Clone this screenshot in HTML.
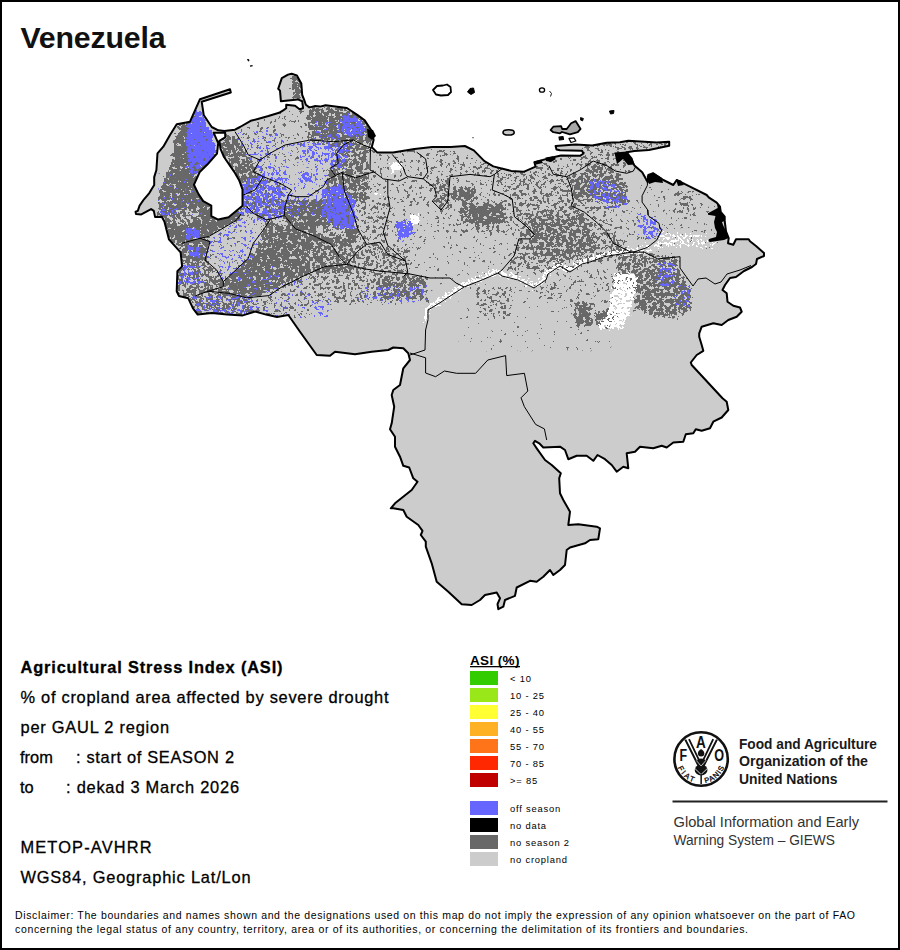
<!DOCTYPE html>
<html><head><meta charset="utf-8">
<style>
html,body{margin:0;padding:0;background:#fff;}
svg{display:block;}
text{font-family:"Liberation Sans",sans-serif;}
</style></head><body>
<svg width="900" height="950" viewBox="0 0 900 950">
<rect x="1" y="1" width="898" height="948" fill="#fff" stroke="#000" stroke-width="2"/>
<text x="20.5" y="48.3" font-size="30.3" font-weight="bold" fill="#111" textLength="145" lengthAdjust="spacing">Venezuela</text>

<g id="map">
<defs>
<clipPath id="cl"><polygon points="230,89.2 200,99.2 190,121.7 176.7,124.2 170,135 163.3,146.7 157.5,153.3 156.4,170 154.2,177.1 154.2,185.1 149.3,193.1 144,199.3 139.6,205.6 137.8,210.9 135.6,211.8 136,214 141.3,214.4 151.1,209.1 153.8,210.9 155.1,217.1 161.8,216.7 164.4,221.6 168.9,239.3 180.6,252.4 182.1,266.4 177.4,271.1 176.7,291.3 179,296 188.3,298.3 193,308.4 197.7,314.6 211.7,313.1 227.2,314.6 242.8,315.4 255.2,311.5 266.1,314.6 277,317 288.3,315 300,331.7 316.7,355 330,355.8 335,351.7 355,354.2 371.7,351.7 388.3,350 393.3,347.5 403.3,348.3 408.3,353.3 410,360 403.3,368.3 400,385 393.3,390 391.7,395 394.2,406.7 391.7,423.3 390,429.2 395,436.7 395,446.7 400,456.7 403.3,465.8 409.2,467.5 413.3,478.3 417.5,481.7 411.7,490 395,503.3 390.8,508.3 393.3,508.3 403.3,510 406.7,516.7 418.3,525 422.5,530.8 420.8,535 425.8,541.7 425.8,546.7 431.7,563.3 436.7,581.7 448.3,591.7 461.7,604.2 471.7,605 480,600 485,595 496.7,592.5 500,598.3 497.5,604.2 498.3,609.2 503.3,606.7 505,600 515,595.8 516.7,587.5 530,580.8 536.7,581.7 543.3,576.7 550,570 553.3,575 560,570 565,565 566.7,550 570,547.5 585,543.3 590,540 598.3,539.2 600,528.3 596.7,526.7 578.3,524.2 568.3,525 570,511.7 563.3,500 560,493.3 559.2,478.3 560.8,473.3 551.7,465 545,460 536.7,448.3 533.3,443.3 535,440.8 539.2,443.3 543.3,447.5 560,446.7 565,450 568.3,459.2 576.7,455.8 586.7,455.8 593.3,460.8 597.5,455 605,459.2 611.7,465 616.7,471.7 623.3,466.7 628.3,468.3 626.7,453.3 635,451.7 640,446.7 653.3,448.3 661.7,445.8 666.7,447.5 673.3,442.5 683.3,441.7 685.8,434.2 693.3,433.3 695.8,429.2 701.7,430.8 710,428.3 713.3,421.7 721.7,417.5 728.3,410 726.7,401.7 722.5,398.3 691.7,365 690.8,362.5 696.7,355 703.3,350.8 701.7,345 699.2,336.7 699.2,333.3 701.7,326.7 713.3,323.3 721.7,325 728.3,320 736.7,316.7 741.7,311.7 740,307.5 733.3,305.8 727.5,301.7 726.7,293.3 722.5,290 725,285 730,278 736,277 744,271 752,267 756,264 757,259 764,256 764,253 756,246 750,241.3 748.7,239.3 736,239.3 733.3,244.7 728,243.3 728.7,238 726,231.3 724.7,221 724.7,216.7 720.7,212 720,206.7 716.7,202.7 708.7,197.3 706.7,195 690,186.7 680,181.7 676.7,180 673.3,185 663.3,180 653.3,173.3 648.3,175 647.8,182.2 642.2,172.2 634.4,165.6 632.2,161.1 626.7,152.2 634.4,151.1 648.9,150 669.2,145.8 669.2,141.7 656.7,142.5 628.3,140.8 620,142.2 606.7,142.8 592.2,145.6 575.6,144.4 555.6,146.1 556.5,149.5 560,150.2 582,150.8 583.5,153.5 580,155.8 561,155.5 553.3,157.2 546.7,158.9 534.4,162.2 535.6,166.7 523.6,171.8 511.1,170.9 493.3,166.4 484.4,161.1 473.8,150.4 464.9,146 450.7,146.9 432.2,147.1 414.4,148.9 393.1,152.4 377.1,152.4 371.8,147.1 373.6,140 371.8,131.1 364.7,120.4 357.6,115.1 346.9,108 325.6,105.3 320,106.6 314.7,106.1 309.3,107.4 305.8,104.8 304,99.4 302.2,95 301.3,83.4 296.9,75.4 291.6,73.7 288,74.6 281.8,78.1 278.2,88.8 280,90.6 280.9,101.2 297.8,99.4 302.2,101.2 303.1,108.3 299.6,109.2 295.1,105.7 286.2,104.8 286.2,108.3 283.6,110.1 279.1,112.8 267.6,116.3 257.8,119 250.7,120.8 240,127 235,129.7 224.3,131 218.3,130.3 211.7,127 203.7,115 201.7,101.7 230.8,92.5"/></clipPath>
<filter id="fD" filterUnits="userSpaceOnUse" x="0" y="0" width="900" height="950" color-interpolation-filters="sRGB">
<feColorMatrix in="SourceGraphic" type="matrix" values="0 0 0 0 0  0 0 0 0 0  0 0 0 0 0  1 0 0 0 0" result="a"/>
<feGaussianBlur in="a" stdDeviation="1.5" result="d"/>
<feTurbulence type="fractalNoise" baseFrequency="0.3" numOctaves="3" seed="11" result="n0"/>
<feComponentTransfer in="n0" result="n"><feFuncA type="linear" slope="2.0" intercept="-0.5"/></feComponentTransfer>
<feComposite in="d" in2="n" operator="arithmetic" k1="0" k2="1" k3="1" k4="-1" result="s"/>
<feComponentTransfer in="s" result="m"><feFuncA type="linear" slope="80" intercept="0"/></feComponentTransfer>
<feFlood flood-color="#686868" result="c"/>
<feComposite in="c" in2="m" operator="in"/>
</filter>
<filter id="fB" filterUnits="userSpaceOnUse" x="0" y="0" width="900" height="950" color-interpolation-filters="sRGB">
<feColorMatrix in="SourceGraphic" type="matrix" values="0 0 0 0 0  0 0 0 0 0  0 0 0 0 0  1 0 0 0 0" result="a"/>
<feGaussianBlur in="a" stdDeviation="1.3" result="d"/>
<feTurbulence type="fractalNoise" baseFrequency="0.32" numOctaves="3" seed="23" result="n0"/>
<feComponentTransfer in="n0" result="n"><feFuncA type="linear" slope="2.0" intercept="-0.5"/></feComponentTransfer>
<feComposite in="d" in2="n" operator="arithmetic" k1="0" k2="1" k3="1" k4="-1" result="s"/>
<feComponentTransfer in="s" result="m"><feFuncA type="linear" slope="80" intercept="0"/></feComponentTransfer>
<feFlood flood-color="#6666ff" result="c"/>
<feComposite in="c" in2="m" operator="in"/>
</filter>
<filter id="fW" filterUnits="userSpaceOnUse" x="0" y="0" width="900" height="950" color-interpolation-filters="sRGB">
<feColorMatrix in="SourceGraphic" type="matrix" values="0 0 0 0 0  0 0 0 0 0  0 0 0 0 0  1 0 0 0 0" result="a"/>
<feGaussianBlur in="a" stdDeviation="1.0" result="d"/>
<feTurbulence type="fractalNoise" baseFrequency="0.4" numOctaves="3" seed="37" result="n0"/>
<feComponentTransfer in="n0" result="n"><feFuncA type="linear" slope="2.0" intercept="-0.5"/></feComponentTransfer>
<feComposite in="d" in2="n" operator="arithmetic" k1="0" k2="1" k3="1" k4="-1" result="s"/>
<feComponentTransfer in="s" result="m"><feFuncA type="linear" slope="80" intercept="0"/></feComponentTransfer>
<feFlood flood-color="#ffffff" result="c"/>
<feComposite in="c" in2="m" operator="in"/>
</filter>
</defs>
<polygon points="230,89.2 200,99.2 190,121.7 176.7,124.2 170,135 163.3,146.7 157.5,153.3 156.4,170 154.2,177.1 154.2,185.1 149.3,193.1 144,199.3 139.6,205.6 137.8,210.9 135.6,211.8 136,214 141.3,214.4 151.1,209.1 153.8,210.9 155.1,217.1 161.8,216.7 164.4,221.6 168.9,239.3 180.6,252.4 182.1,266.4 177.4,271.1 176.7,291.3 179,296 188.3,298.3 193,308.4 197.7,314.6 211.7,313.1 227.2,314.6 242.8,315.4 255.2,311.5 266.1,314.6 277,317 288.3,315 300,331.7 316.7,355 330,355.8 335,351.7 355,354.2 371.7,351.7 388.3,350 393.3,347.5 403.3,348.3 408.3,353.3 410,360 403.3,368.3 400,385 393.3,390 391.7,395 394.2,406.7 391.7,423.3 390,429.2 395,436.7 395,446.7 400,456.7 403.3,465.8 409.2,467.5 413.3,478.3 417.5,481.7 411.7,490 395,503.3 390.8,508.3 393.3,508.3 403.3,510 406.7,516.7 418.3,525 422.5,530.8 420.8,535 425.8,541.7 425.8,546.7 431.7,563.3 436.7,581.7 448.3,591.7 461.7,604.2 471.7,605 480,600 485,595 496.7,592.5 500,598.3 497.5,604.2 498.3,609.2 503.3,606.7 505,600 515,595.8 516.7,587.5 530,580.8 536.7,581.7 543.3,576.7 550,570 553.3,575 560,570 565,565 566.7,550 570,547.5 585,543.3 590,540 598.3,539.2 600,528.3 596.7,526.7 578.3,524.2 568.3,525 570,511.7 563.3,500 560,493.3 559.2,478.3 560.8,473.3 551.7,465 545,460 536.7,448.3 533.3,443.3 535,440.8 539.2,443.3 543.3,447.5 560,446.7 565,450 568.3,459.2 576.7,455.8 586.7,455.8 593.3,460.8 597.5,455 605,459.2 611.7,465 616.7,471.7 623.3,466.7 628.3,468.3 626.7,453.3 635,451.7 640,446.7 653.3,448.3 661.7,445.8 666.7,447.5 673.3,442.5 683.3,441.7 685.8,434.2 693.3,433.3 695.8,429.2 701.7,430.8 710,428.3 713.3,421.7 721.7,417.5 728.3,410 726.7,401.7 722.5,398.3 691.7,365 690.8,362.5 696.7,355 703.3,350.8 701.7,345 699.2,336.7 699.2,333.3 701.7,326.7 713.3,323.3 721.7,325 728.3,320 736.7,316.7 741.7,311.7 740,307.5 733.3,305.8 727.5,301.7 726.7,293.3 722.5,290 725,285 730,278 736,277 744,271 752,267 756,264 757,259 764,256 764,253 756,246 750,241.3 748.7,239.3 736,239.3 733.3,244.7 728,243.3 728.7,238 726,231.3 724.7,221 724.7,216.7 720.7,212 720,206.7 716.7,202.7 708.7,197.3 706.7,195 690,186.7 680,181.7 676.7,180 673.3,185 663.3,180 653.3,173.3 648.3,175 647.8,182.2 642.2,172.2 634.4,165.6 632.2,161.1 626.7,152.2 634.4,151.1 648.9,150 669.2,145.8 669.2,141.7 656.7,142.5 628.3,140.8 620,142.2 606.7,142.8 592.2,145.6 575.6,144.4 555.6,146.1 556.5,149.5 560,150.2 582,150.8 583.5,153.5 580,155.8 561,155.5 553.3,157.2 546.7,158.9 534.4,162.2 535.6,166.7 523.6,171.8 511.1,170.9 493.3,166.4 484.4,161.1 473.8,150.4 464.9,146 450.7,146.9 432.2,147.1 414.4,148.9 393.1,152.4 377.1,152.4 371.8,147.1 373.6,140 371.8,131.1 364.7,120.4 357.6,115.1 346.9,108 325.6,105.3 320,106.6 314.7,106.1 309.3,107.4 305.8,104.8 304,99.4 302.2,95 301.3,83.4 296.9,75.4 291.6,73.7 288,74.6 281.8,78.1 278.2,88.8 280,90.6 280.9,101.2 297.8,99.4 302.2,101.2 303.1,108.3 299.6,109.2 295.1,105.7 286.2,104.8 286.2,108.3 283.6,110.1 279.1,112.8 267.6,116.3 257.8,119 250.7,120.8 240,127 235,129.7 224.3,131 218.3,130.3 211.7,127 203.7,115 201.7,101.7 230.8,92.5" fill="#cccccc" stroke="none"/>
<g clip-path="url(#cl)">
<g filter="url(#fD)"><polygon points="191.7,110.0 215.0,148.3 213.3,165.0 198.3,178.3 195.0,181.7 201.7,195.0 213.3,206.7 213.3,215.0 161.7,215.0 160.0,198.3 163.3,181.7 171.7,165.0 175.0,148.3 178.3,131.7 181.7,118.3" fill="rgb(217,217,217)"/>
<polygon points="220.0,135.0 235.0,135.0 243.3,151.7 251.7,161.7 258.3,181.7 251.7,198.3 241.7,198.3 235.0,173.3 223.3,155.0" fill="rgb(178,178,178)"/>
<polygon points="235.0,131.7 285.0,111.7 285.0,158.3 258.3,163.3 243.3,151.7" fill="rgb(56,56,56)"/>
<polygon points="251.7,161.7 285.0,158.3 285.0,215.0 238.3,215.0 241.7,196.7 258.3,181.7" fill="rgb(128,128,128)"/>
<polygon points="291.7,76.7 298.3,75.0 301.7,86.7 301.7,98.3 293.3,98.3" fill="rgb(204,204,204)"/>
<polygon points="285.0,105.0 310.0,105.0 310.0,141.7 285.0,143.3" fill="rgb(31,31,31)"/>
<polygon points="310.0,106.7 346.7,108.3 365.0,120.0 371.7,136.7 371.7,145.0 343.3,143.3 310.0,141.7 306.7,120.0" fill="rgb(184,184,184)"/>
<polygon points="285.0,143.3 328.3,141.7 328.3,215.0 285.0,215.0" fill="rgb(31,31,31)"/>
<polygon points="310.0,141.7 371.7,143.3 371.7,173.3 328.3,178.3 311.7,168.3" fill="rgb(153,153,153)"/>
<polygon points="326.7,173.3 371.7,171.7 368.3,215.0 323.3,215.0" fill="rgb(166,166,166)"/>
<polygon points="368.3,151.7 435.0,146.7 435.0,215.0 368.3,215.0" fill="rgb(46,46,46)"/>
<polygon points="401.7,173.3 435.0,168.3 435.0,215.0 393.3,215.0" fill="rgb(64,64,64)"/>
<polygon points="435.0,146.7 505.0,170.0 505.0,176.7 490.0,176.7 448.3,175.0 435.0,173.3" fill="rgb(82,82,82)"/>
<polygon points="435.0,176.7 450.0,176.7 450.0,210.0 441.7,210.0 435.0,206.7" fill="rgb(102,102,102)"/>
<polygon points="450.0,178.3 490.0,178.3 505.0,196.7 515.0,210.0 515.0,233.3 490.0,233.3 451.7,233.3" fill="rgb(38,38,38)"/>
<polygon points="451.7,188.3 473.3,186.7 480.0,203.3 471.7,223.3 453.3,221.7" fill="rgb(184,184,184)"/>
<polygon points="468.3,206.7 490.0,203.3 505.0,208.3 501.7,223.3 478.3,228.3 468.3,223.3" fill="rgb(217,217,217)"/>
<polygon points="435.0,233.3 518.3,233.3 518.3,256.7 501.7,273.3 435.0,273.3" fill="rgb(15,15,15)"/>
<polygon points="490.0,173.3 551.7,166.7 585.0,173.3 585.0,266.7 548.3,273.3 515.0,273.3 505.0,256.7 518.3,233.3 515.0,210.0 505.0,196.7" fill="rgb(97,97,97)"/>
<polygon points="528.3,210.0 585.0,210.0 585.0,256.7 551.7,253.3 528.3,240.0" fill="rgb(166,166,166)"/>
<polygon points="505.0,170.0 551.7,156.7 585.0,156.7 585.0,173.3 551.7,173.3" fill="rgb(76,76,76)"/>
<polygon points="571.7,176.7 585.0,176.7 585.0,213.3 573.3,213.3" fill="rgb(178,178,178)"/>
<polygon points="585.0,141.7 668.3,141.7 668.3,150.0 631.7,151.7 585.0,151.7" fill="rgb(102,102,102)"/>
<polygon points="585.0,150.0 615.0,150.0 635.0,173.3 610.0,168.3 585.0,165.0" fill="rgb(89,89,89)"/>
<polygon points="585.0,161.7 610.0,166.7 626.7,181.7 630.0,210.0 610.0,211.7 585.0,211.7" fill="rgb(158,158,158)"/>
<polygon points="601.7,211.7 643.3,198.3 661.7,223.3 658.3,240.0 635.0,248.3 610.0,240.0" fill="rgb(38,38,38)"/>
<polygon points="585.0,211.7 601.7,211.7 618.3,240.0 631.7,253.3 610.0,260.0 585.0,263.3" fill="rgb(140,140,140)"/>
<polygon points="643.3,183.3 710.0,193.3 721.7,246.7 660.0,246.7 643.3,223.3" fill="rgb(20,20,20)"/>
<polygon points="675.0,195.0 695.0,193.3 695.0,216.7 675.0,216.7" fill="rgb(76,76,76)"/>
<polygon points="618.3,250.0 678.3,256.7 681.7,290.0 611.7,290.0" fill="rgb(140,140,140)"/>
<polygon points="160.0,200.0 206.7,200.0 215.0,216.7 240.0,210.0 243.3,220.0 218.3,233.3 206.7,238.3 180.0,243.3 168.3,241.7 160.0,216.7" fill="rgb(217,217,217)"/>
<polygon points="166.7,210.0 196.7,206.7 200.0,218.3 185.0,225.0 168.3,223.3" fill="rgb(128,128,128)"/>
<polygon points="243.3,200.0 286.7,200.0 286.7,218.3 263.3,220.0 246.7,213.3" fill="rgb(140,140,140)"/>
<polygon points="286.7,200.0 310.0,200.0 310.0,233.3 293.3,230.0 283.3,218.3" fill="rgb(191,191,191)"/>
<polygon points="205.0,238.3 243.3,216.7 266.7,220.0 253.3,258.3 223.3,278.3 205.0,260.0" fill="rgb(31,31,31)"/>
<polygon points="180.0,243.3 210.0,238.3 208.3,260.0 190.0,266.7 180.0,260.0" fill="rgb(191,191,191)"/>
<polygon points="176.7,263.3 206.7,260.0 223.3,280.0 223.3,300.0 193.3,300.0 176.7,293.3" fill="rgb(140,140,140)"/>
<polygon points="253.3,258.3 266.7,220.0 310.0,233.3 310.0,273.3 276.7,293.3 243.3,300.0 223.3,293.3 223.3,280.0" fill="rgb(184,184,184)"/>
<polygon points="230.0,273.3 253.3,255.0 276.7,255.0 280.0,283.3 253.3,293.3 230.0,290.0" fill="rgb(209,209,209)"/>
<polygon points="190.0,295.0 251.7,296.7 260.0,316.7 193.3,316.7" fill="rgb(140,140,140)"/>
<polygon points="251.7,298.3 310.0,273.3 310.0,316.7 260.0,316.7" fill="rgb(76,76,76)"/>
<polygon points="310.0,200.0 348.3,200.0 360.0,230.0 353.3,243.3 335.0,246.7 310.0,241.7" fill="rgb(209,209,209)"/>
<polygon points="315.0,225.0 343.3,225.0 346.7,238.3 316.7,236.7" fill="rgb(115,115,115)"/>
<polygon points="310.0,241.7 360.0,243.3 351.7,275.0 310.0,275.0" fill="rgb(158,158,158)"/>
<polygon points="348.3,200.0 390.0,200.0 388.3,243.3 360.0,243.3 356.7,230.0" fill="rgb(89,89,89)"/>
<polygon points="390.0,205.0 430.0,205.0 426.7,246.7 393.3,245.0" fill="rgb(31,31,31)"/>
<polygon points="430.0,200.0 460.0,200.0 460.0,238.3 430.0,238.3" fill="rgb(38,38,38)"/>
<polygon points="351.7,243.3 410.0,246.7 410.0,276.7 351.7,276.7" fill="rgb(115,115,115)"/>
<polygon points="410.0,241.7 460.0,238.3 460.0,283.3 410.0,278.3" fill="rgb(26,26,26)"/>
<polygon points="310.0,273.3 426.7,275.0 430.0,300.0 360.0,303.3 310.0,303.3" fill="rgb(97,97,97)"/>
<polygon points="376.7,276.7 426.7,276.7 426.7,298.3 380.0,300.0" fill="rgb(153,153,153)"/>
<polygon points="460.0,200.0 515.0,200.0 533.3,233.3 515.0,236.7 460.0,233.3" fill="rgb(82,82,82)"/>
<polygon points="468.3,206.7 501.7,203.3 506.7,218.3 493.3,226.7 470.0,225.0" fill="rgb(209,209,209)"/>
<polygon points="460.0,200.0 470.0,200.0 470.0,221.7 460.0,221.7" fill="rgb(178,178,178)"/>
<polygon points="460.0,233.3 518.3,236.7 505.0,271.7 460.0,278.3" fill="rgb(20,20,20)"/>
<polygon points="515.0,200.0 573.3,200.0 610.0,233.3 610.0,253.3 576.7,266.7 543.3,273.3 503.3,271.7 518.3,238.3" fill="rgb(107,107,107)"/>
<polygon points="526.7,213.3 586.7,216.7 598.3,250.0 560.0,263.3 530.0,250.0" fill="rgb(158,158,158)"/>
<polygon points="573.3,200.0 610.0,200.0 610.0,233.3 596.7,230.0" fill="rgb(89,89,89)"/>
<polygon points="460.0,286.7 535.0,285.0 568.3,278.3 610.0,270.0 610.0,350.0 460.0,350.0" fill="rgb(5,5,5)"/>
<polygon points="473.3,286.7 513.3,286.7 510.0,320.0 480.0,316.7" fill="rgb(89,89,89)"/>
<polygon points="535.0,283.3 576.7,276.7 568.3,300.0 538.3,300.0" fill="rgb(76,76,76)"/>
<polygon points="573.3,300.0 593.3,300.0 593.3,323.3 573.3,323.3" fill="rgb(153,153,153)"/>
<polygon points="596.7,303.3 610.0,300.0 610.0,330.0 596.7,326.7" fill="rgb(128,128,128)"/>
<polygon points="560.0,270.0 613.3,270.0 610.0,303.3 593.3,320.0 560.0,303.3" fill="rgb(46,46,46)"/>
<polygon points="575.0,301.7 591.7,301.7 591.7,326.7 575.0,326.7" fill="rgb(178,178,178)"/>
<polygon points="595.0,311.7 616.7,311.7 616.7,323.3 595.0,323.3" fill="rgb(178,178,178)"/>
<polygon points="635.0,270.0 676.7,270.0 691.7,290.0 691.7,308.3 676.7,316.7 653.3,316.7 635.0,308.3" fill="rgb(166,166,166)"/>
<polygon points="597.0,312.0 615.0,311.0 615.0,322.0 597.0,322.0" fill="rgb(204,204,204)"/>
<polygon points="262.0,162.0 285.0,148.0 320.0,142.0 335.0,150.0 330.0,168.0 322.0,186.0 308.0,195.0 290.0,190.0 265.0,178.0" fill="rgb(13,13,13)"/>
<polygon points="181.0,125.0 190.0,122.0 200.0,140.0 205.0,170.0 200.0,185.0 190.0,200.0 175.0,215.0 160.0,215.0 158.0,200.0 165.0,177.0 172.0,163.0 174.0,150.0 175.0,137.0" fill="rgb(217,217,217)"/>
<polygon points="435.0,177.0 450.0,176.0 452.0,210.0 440.0,212.0 435.0,205.0" fill="rgb(128,128,128)"/>
<polygon points="676.0,192.0 692.0,190.0 696.0,205.0 688.0,217.0 678.0,214.0" fill="rgb(97,97,97)"/></g>
<g filter="url(#fB)"><polygon points="160.0,173.3 198.3,173.3 205.0,215.0 161.7,215.0" fill="rgb(20,20,20)"/>
<polygon points="238.3,131.7 268.3,128.3 285.0,136.7 285.0,158.3 255.0,161.7 243.3,151.7" fill="rgb(56,56,56)"/>
<polygon points="241.7,181.7 265.0,173.3 285.0,181.7 285.0,215.0 238.3,215.0" fill="rgb(140,140,140)"/>
<polygon points="340.0,115.0 355.0,115.0 365.0,125.0 365.0,135.0 351.7,136.7 341.7,131.7" fill="rgb(178,178,178)"/>
<polygon points="313.3,121.7 340.0,121.7 340.0,141.7 313.3,141.7" fill="rgb(64,64,64)"/>
<polygon points="285.0,143.3 328.3,143.3 328.3,215.0 285.0,215.0" fill="rgb(56,56,56)"/>
<polygon points="301.7,170.0 318.3,170.0 318.3,186.7 301.7,186.7" fill="rgb(128,128,128)"/>
<polygon points="311.7,143.3 351.7,143.3 343.3,168.3 318.3,168.3" fill="rgb(128,128,128)"/>
<polygon points="323.3,188.3 340.0,185.0 355.0,201.7 355.0,215.0 323.3,215.0" fill="rgb(184,184,184)"/>
<polygon points="588.3,180.0 610.0,180.0 626.7,196.7 626.7,208.3 605.0,206.7 588.3,195.0" fill="rgb(115,115,115)"/>
<polygon points="638.3,213.3 656.7,220.0 661.7,233.3 651.7,240.0 640.0,233.3" fill="rgb(128,128,128)"/>
<polygon points="658.3,263.3 675.0,263.3 675.0,283.3 658.3,283.3" fill="rgb(128,128,128)"/>
<polygon points="160.0,200.0 180.0,200.0 176.7,216.7 160.0,216.7" fill="rgb(76,76,76)"/>
<polygon points="185.0,228.3 200.0,228.3 200.0,238.3 185.0,238.3" fill="rgb(191,191,191)"/>
<polygon points="243.3,200.0 286.7,200.0 283.3,218.3 260.0,218.3" fill="rgb(128,128,128)"/>
<polygon points="205.0,238.3 243.3,216.7 266.7,220.0 253.3,258.3 223.3,278.3 205.0,260.0" fill="rgb(56,56,56)"/>
<polygon points="188.3,246.7 200.0,246.7 200.0,256.7 188.3,256.7" fill="rgb(191,191,191)"/>
<polygon points="176.7,265.0 196.7,263.3 203.3,283.3 178.3,286.7" fill="rgb(102,102,102)"/>
<polygon points="193.3,295.0 251.7,296.7 260.0,316.7 196.7,316.7" fill="rgb(89,89,89)"/>
<polygon points="251.7,298.3 310.0,273.3 310.0,316.7 260.0,316.7" fill="rgb(31,31,31)"/>
<polygon points="230.0,273.3 280.0,266.7 280.0,293.3 230.0,293.3" fill="rgb(38,38,38)"/>
<polygon points="323.3,200.0 348.3,200.0 356.7,216.7 353.3,228.3 338.3,228.3 325.0,216.7" fill="rgb(191,191,191)"/>
<polygon points="395.0,223.3 411.7,220.0 413.3,233.3 400.0,240.0" fill="rgb(204,204,204)"/>
<polygon points="360.0,286.7 426.7,283.3 426.7,301.7 360.0,301.7" fill="rgb(64,64,64)"/>
<polygon points="310.0,300.0 330.0,300.0 330.0,316.7 310.0,316.7" fill="rgb(76,76,76)"/>
<polygon points="656.7,270.0 675.0,270.0 675.0,286.7 656.7,286.7" fill="rgb(102,102,102)"/>
<polygon points="676.7,286.7 690.0,286.7 690.0,306.7 676.7,306.7" fill="rgb(76,76,76)"/>
<polygon points="262.0,162.0 285.0,148.0 320.0,142.0 335.0,150.0 330.0,168.0 322.0,186.0 308.0,195.0 290.0,190.0 265.0,178.0" fill="rgb(31,31,31)"/>
<polygon points="256.0,166.0 275.0,165.0 293.0,178.0 290.0,188.0 265.0,183.0" fill="rgb(107,107,107)"/>
<polygon points="300.0,172.0 317.0,172.0 317.0,183.0 300.0,183.0" fill="rgb(153,153,153)"/>
<polygon points="300.0,143.0 333.0,141.0 337.0,160.0 318.0,164.0 302.0,158.0" fill="rgb(115,115,115)"/>
<polygon points="195.0,110.0 200.0,111.0 206.0,125.0 212.0,133.0 216.0,150.0 212.0,160.0 202.0,165.0 192.0,167.0 188.0,158.0 187.0,148.0 186.0,137.0 188.0,123.0" fill="rgb(230,230,230)"/>
<polygon points="187.0,162.0 200.0,161.0 198.0,172.0 188.0,173.0" fill="rgb(153,153,153)"/></g>
<g filter="url(#fW)"><polygon points="390.0,165.0 400.0,162.5 402.5,167.5 393.3,171.7" fill="rgb(255,255,255)"/>
<polygon points="375.0,193.3 380.0,193.3 380.0,196.7 375.0,196.7" fill="rgb(204,204,204)"/>
<polygon points="660.0,233.3 705.0,235.0 705.0,246.7 660.0,246.7" fill="rgb(102,102,102)"/>
<polygon points="410.0,215.0 418.3,215.0 418.3,223.3 410.0,223.3" fill="rgb(230,230,230)"/>
<polygon points="614.0,273.0 637.0,275.0 636.0,290.0 632.0,302.0 630.0,312.0 624.0,322.0 622.0,329.0 600.0,329.0 598.0,323.0 606.0,318.0 610.0,303.0 613.0,290.0" fill="rgb(191,191,191)"/>
<polygon points="428.4,322.0 428.4,310.2 438.2,304.3 464.2,287.4 482.2,280.4 498.1,273.4 501.9,276.4 517.9,280.4 534.0,288.4 546.3,280.2 548.3,274.3 560.1,266.4 570.0,272.4 582.2,264.4 604.5,257.1 631.1,252.6 630.3,248.3 603.5,252.8 580.4,260.3 569.6,268.0 559.6,262.0 545.2,271.1 543.1,277.2 534.0,284.0 519.4,276.3 503.3,272.2 497.2,269.1 480.5,276.3 462.1,283.5 435.8,300.6 424.5,308.1 424.0,322.0" fill="rgb(158,158,158)"/>
<polygon points="631.7,255.1 644.8,251.9 660.7,246.9 680.0,244.0 699.8,247.0 716.0,247.0 716.0,241.0 700.2,241.0 680.0,238.0 659.3,241.1 643.2,246.1 630.3,249.3" fill="rgb(115,115,115)"/></g>
</g>
<g fill="#000"><polygon points="614.4,152.5 627.0,151.5 632.5,158.0 634.5,164.5 628.0,165.0 623.0,159.0 617.0,164.0" />
<polygon points="646.7,176.0 653.0,172.5 662.0,178.0 663.0,183.0 655.0,182.0 649.0,184.0" />
<polygon points="676.0,179.5 681.0,180.5 684.0,185.0 678.0,186.0" />
<polygon points="716.7,202.7 720.0,206.7 720.7,212.0 724.7,216.7 724.7,221.0 722.0,222.0 723.0,225.0 726.0,231.0 728.7,238.0 724.0,240.0 710.0,242.0 708.3,241.3 709.0,239.0 716.0,237.0 717.0,232.0 715.0,228.0 714.0,222.0 715.5,216.0 708.0,214.7 708.0,213.3 717.7,208.0" />
<polygon points="545.5,157.5 553.0,156.2 556.0,159.0 551.0,162.0 546.0,161.0" />
<polygon points="534.0,161.5 541.0,159.8 543.0,163.0 536.0,164.5" />
<polygon points="367.0,129.0 373.0,130.0 376.0,136.0 372.0,140.0 368.0,137.0" /></g>
<g fill="none" stroke="#000" stroke-width="1" stroke-linejoin="round"><polyline points="235,131.7 243.3,145 248.3,155 260,160"/>
<polyline points="260,160 270,153.3 285,145 310,140 333.3,141.7 353.3,140 363.3,145 371.7,148.3"/>
<polyline points="260,160 253.3,171.7 263.3,176.7 280,183.3 291.7,190"/>
<polyline points="263.3,176.7 255,190 243.3,195"/>
<polyline points="291.7,190 288.3,195 296.7,196.7 308.3,196.7 323.3,186.7 326.7,180 336.7,175 343.3,171.7 342.2,173.3 355.6,177.8 368.9,173.3 374,172 383.3,178.9 398.9,181.1 407.8,176.7 423.3,178.9 434.4,187.8 436.7,196.7 432.2,201.1 441.1,210 447.8,201.1 450,176.7 470,174.4 490,176.7 494.4,174.4"/>
<polyline points="335,175 330,168.3 338.3,163.3 336.7,153.3 343.3,145 353.3,140"/>
<polyline points="370.5,147.5 370,170 374,172"/>
<polyline points="288.3,195 285,206.7 284.4,215.6"/>
<polyline points="284.4,215.6 266.7,220 253.3,213.3 246.7,206.7"/>
<polyline points="284.4,215.6 295.6,228.9 313.3,235.6 331.1,244.4 340,257.8 346.7,264.4 357.8,251.1 366.7,244.4 380,242.2 387.8,254.4 405.6,261.1"/>
<polyline points="342.2,173.3 344.4,191.1 353.3,213.3 357.8,228.9 366.7,244.4"/>
<polyline points="270,220 263.3,230 253.3,243.3 248.3,258.3 223.3,281.7"/>
<polyline points="181.7,243.3 200,238.3 208.3,236.7 220,230 236.7,220 241,214"/>
<polyline points="200,238.3 210,241.7 205,260 216.7,270 223.3,281.7 223.3,286.7 206.7,291.7 195,296"/>
<polyline points="206.7,291.1 228.9,293.3 246.7,297.8 268.9,295.6 282.2,286.7 304.4,275.6 324.4,266.7 346.7,264.4 364.4,268.9 380,271.1 410,274 430,278 450,278 456,283 464,287 482,280 498,273 502,276 518,280 534,288 546,280 548,274 560,266 570,272 582,264 590,262 604.4,256.7 631,252.2 644.4,252.2 657.8,258.9 680,256.7 680,268 685,275 693,286 698,279 706,278 715,284 721,282 727,274 740,270 751,265.5"/>
<polyline points="392.2,154.4 403.3,167.8 405.6,174.4 407.8,176.7"/>
<polyline points="416.7,152.2 425.6,158.9 427.8,172.2 423.3,178.9"/>
<polyline points="387.8,180 387.8,194.4 390,207.8 383.3,232.2 387.8,245.6 405.6,261.1 407.8,272.2 403.3,276.7"/>
<polyline points="494.4,174.4 492.2,190 503.3,194.4 512.2,198.9 514.4,216.7 525.6,225.6 534.4,234.4 530,238.9 518.9,238.9 514,256 502,270 498,273"/>
<polyline points="494.4,174.4 503,168"/>
<polyline points="464,287 438,304 428,310 428,320 425.6,330 425,350 410,355"/>
<polyline points="548.9,165.6 553.3,174.4 566.7,176.7 580,170 593.3,161.1 606.7,165.6 615.6,171.1 626.7,173.3 633.3,171.1 635.6,166.7"/>
<polyline points="566.7,176.7 571.1,187.8 573.3,201.1 571.1,205.6 584.4,212.2 597.8,223.3 606.7,232.2 613.3,243.3 631,252.2"/>
<polyline points="647.4,182 647.4,185.3 642.1,195.8 642.1,202.1 647.4,209.5 648.4,215.8 655.8,221.1 658.9,223.2 660,228.4 662.1,229.5 656.8,240 647.4,247.4 632.6,252.6"/>
<polyline points="410,353 425.6,357.8 425.6,373 435.6,376.7 444.4,371 456.7,373.3 475.6,373.3 487.8,360 505.6,355.6 506.7,375.6 524.4,373.3 527.8,391 521,397.8 524.4,406.7 535.6,424.4 544.4,428.9 546.7,440"/></g>
<polygon points="230,89.2 200,99.2 190,121.7 176.7,124.2 170,135 163.3,146.7 157.5,153.3 156.4,170 154.2,177.1 154.2,185.1 149.3,193.1 144,199.3 139.6,205.6 137.8,210.9 135.6,211.8 136,214 141.3,214.4 151.1,209.1 153.8,210.9 155.1,217.1 161.8,216.7 164.4,221.6 168.9,239.3 180.6,252.4 182.1,266.4 177.4,271.1 176.7,291.3 179,296 188.3,298.3 193,308.4 197.7,314.6 211.7,313.1 227.2,314.6 242.8,315.4 255.2,311.5 266.1,314.6 277,317 288.3,315 300,331.7 316.7,355 330,355.8 335,351.7 355,354.2 371.7,351.7 388.3,350 393.3,347.5 403.3,348.3 408.3,353.3 410,360 403.3,368.3 400,385 393.3,390 391.7,395 394.2,406.7 391.7,423.3 390,429.2 395,436.7 395,446.7 400,456.7 403.3,465.8 409.2,467.5 413.3,478.3 417.5,481.7 411.7,490 395,503.3 390.8,508.3 393.3,508.3 403.3,510 406.7,516.7 418.3,525 422.5,530.8 420.8,535 425.8,541.7 425.8,546.7 431.7,563.3 436.7,581.7 448.3,591.7 461.7,604.2 471.7,605 480,600 485,595 496.7,592.5 500,598.3 497.5,604.2 498.3,609.2 503.3,606.7 505,600 515,595.8 516.7,587.5 530,580.8 536.7,581.7 543.3,576.7 550,570 553.3,575 560,570 565,565 566.7,550 570,547.5 585,543.3 590,540 598.3,539.2 600,528.3 596.7,526.7 578.3,524.2 568.3,525 570,511.7 563.3,500 560,493.3 559.2,478.3 560.8,473.3 551.7,465 545,460 536.7,448.3 533.3,443.3 535,440.8 539.2,443.3 543.3,447.5 560,446.7 565,450 568.3,459.2 576.7,455.8 586.7,455.8 593.3,460.8 597.5,455 605,459.2 611.7,465 616.7,471.7 623.3,466.7 628.3,468.3 626.7,453.3 635,451.7 640,446.7 653.3,448.3 661.7,445.8 666.7,447.5 673.3,442.5 683.3,441.7 685.8,434.2 693.3,433.3 695.8,429.2 701.7,430.8 710,428.3 713.3,421.7 721.7,417.5 728.3,410 726.7,401.7 722.5,398.3 691.7,365 690.8,362.5 696.7,355 703.3,350.8 701.7,345 699.2,336.7 699.2,333.3 701.7,326.7 713.3,323.3 721.7,325 728.3,320 736.7,316.7 741.7,311.7 740,307.5 733.3,305.8 727.5,301.7 726.7,293.3 722.5,290 725,285 730,278 736,277 744,271 752,267 756,264 757,259 764,256 764,253 756,246 750,241.3 748.7,239.3 736,239.3 733.3,244.7 728,243.3 728.7,238 726,231.3 724.7,221 724.7,216.7 720.7,212 720,206.7 716.7,202.7 708.7,197.3 706.7,195 690,186.7 680,181.7 676.7,180 673.3,185 663.3,180 653.3,173.3 648.3,175 647.8,182.2 642.2,172.2 634.4,165.6 632.2,161.1 626.7,152.2 634.4,151.1 648.9,150 669.2,145.8 669.2,141.7 656.7,142.5 628.3,140.8 620,142.2 606.7,142.8 592.2,145.6 575.6,144.4 555.6,146.1 556.5,149.5 560,150.2 582,150.8 583.5,153.5 580,155.8 561,155.5 553.3,157.2 546.7,158.9 534.4,162.2 535.6,166.7 523.6,171.8 511.1,170.9 493.3,166.4 484.4,161.1 473.8,150.4 464.9,146 450.7,146.9 432.2,147.1 414.4,148.9 393.1,152.4 377.1,152.4 371.8,147.1 373.6,140 371.8,131.1 364.7,120.4 357.6,115.1 346.9,108 325.6,105.3 320,106.6 314.7,106.1 309.3,107.4 305.8,104.8 304,99.4 302.2,95 301.3,83.4 296.9,75.4 291.6,73.7 288,74.6 281.8,78.1 278.2,88.8 280,90.6 280.9,101.2 297.8,99.4 302.2,101.2 303.1,108.3 299.6,109.2 295.1,105.7 286.2,104.8 286.2,108.3 283.6,110.1 279.1,112.8 267.6,116.3 257.8,119 250.7,120.8 240,127 235,129.7 224.3,131 218.3,130.3 211.7,127 203.7,115 201.7,101.7 230.8,92.5" fill="none" stroke="#000" stroke-width="2" stroke-linejoin="round"/>
<polygon points="213.6,132.7 225.2,132.7 225.2,137.4 219.4,140.8 220.5,148.9 224,157 234.4,172.1 239.1,180.2 242.5,189.5 242.5,205.7 228.6,217.3 218.2,219.6 211.3,216.1 211.3,205.7 203.2,201.1 198.5,194.1 193.9,184.8 199.7,172.1 207.8,164 217,153.6 218.2,143.2" fill="#fff" stroke="#000" stroke-width="2" stroke-linejoin="round"/>
<g stroke="#000" stroke-linejoin="round">
<path d="M433,90 L437,86 L443,85.5 L447,84.5 L450.5,87 L451,92 L448,95 L441,95.5 L436,94.5 Z" fill="#fff" stroke-width="1.8"/>
<path d="M467.5,92 L470,88.5 L473.5,88 L474.5,92.5 L471,94.5 Z" fill="#000" stroke-width="1"/>
<ellipse cx="542" cy="90" rx="2.6" ry="2.2" fill="#fff" stroke-width="1.3"/>
<path d="M549.5,91 L551.5,93.5 L550.5,96.5" fill="none" stroke-width="0.9"/>
<ellipse cx="508.6" cy="132.4" rx="5.6" ry="2.6" fill="#c8c8c8" stroke-width="1.6"/>
<path d="M550.6,130 L553.3,126.7 L561.1,126.1 L562.2,129 L566.7,129 L571.1,123.3 L575.6,121.1 L580.6,128.9 L577.8,132.2 L570,134.4 L566.7,133.3 L562,132 L560,133.3 L553.3,132.2 Z" fill="#a8a8a8" stroke-width="1.8"/>
<path d="M559,137 L563,136.5 L563.5,139.5 L559.5,140 Z" fill="#000" stroke-width="1.2"/>
<path d="M569,138.5 L574,137.8 L575.8,141 L571,142.5 Z" fill="#fff" stroke-width="1.3"/>
<path d="M580.5,117.5 L583.5,118.5 L582.5,121 L580.5,120 Z" fill="#000" stroke-width="0.8"/>
<path d="M609.5,111 L614,110.5 L613.5,113.5 L610.5,114 Z" fill="#000" stroke-width="1"/>
<path d="M247.5,59.5 L249,59.8 L248.6,61.2 Z" fill="#000" stroke-width="1"/>
<path d="M250,66.2 L252.6,65.6" fill="none" stroke-width="1.2"/>
<circle cx="473" cy="137.7" r="0.6" fill="#000" stroke="none"/>
</g>
</g>

<g font-size="16.4" fill="#000" stroke="#000" stroke-width="0.3">
<text x="20.5" y="672.7" font-weight="bold" textLength="262" lengthAdjust="spacing">Agricultural Stress Index (ASI)</text>
<text x="20.5" y="702.7" textLength="368" lengthAdjust="spacing">% of cropland area affected by severe drought</text>
<text x="20.5" y="732.7" textLength="148.5" lengthAdjust="spacing">per GAUL 2 region</text>
<text x="20" y="762.7">from</text><text x="76" y="762.7" textLength="158" lengthAdjust="spacing">: start of SEASON 2</text>
<text x="20" y="792.7">to</text><text x="66" y="792.7" textLength="173" lengthAdjust="spacing">: dekad 3 March 2026</text>
<text x="20.5" y="852.7" textLength="131" lengthAdjust="spacing">METOP-AVHRR</text>
<text x="20.5" y="882.7" textLength="230" lengthAdjust="spacing">WGS84, Geographic Lat/Lon</text>
</g>

<g>
<text x="470" y="664.7" font-size="13.5" font-weight="bold" textLength="49.5" lengthAdjust="spacing">ASI (%)</text>
<rect x="470" y="666" width="50" height="1.3" fill="#000"/>
<rect x="470" y="671" width="28" height="14" fill="#33cc00"/>
<rect x="470" y="688" width="28" height="14" fill="#99e619"/>
<rect x="470" y="705" width="28" height="14" fill="#ffff33"/>
<rect x="470" y="722" width="28" height="14" fill="#ffb126"/>
<rect x="470" y="739" width="28" height="14" fill="#ff7319"/>
<rect x="470" y="756" width="28" height="14" fill="#ff2800"/>
<rect x="470" y="773" width="28" height="14" fill="#c00000"/>
<rect x="470" y="801" width="28" height="14" fill="#6666ff"/>
<rect x="470" y="818" width="28" height="14" fill="#000"/>
<rect x="470" y="835" width="28" height="14" fill="#686868"/>
<rect x="470" y="852" width="28" height="14" fill="#cccccc"/>
<g font-size="9.4" letter-spacing="0.8" fill="#000">
<text x="510" y="682">&lt; 10</text>
<text x="510" y="699">10 - 25</text>
<text x="510" y="716">25 - 40</text>
<text x="510" y="733">40 - 55</text>
<text x="510" y="750">55 - 70</text>
<text x="510" y="767">70 - 85</text>
<text x="510" y="784">&gt;= 85</text>
<text x="510" y="812">off season</text>
<text x="510" y="829">no data</text>
<text x="510" y="846">no season 2</text>
<text x="510" y="863">no cropland</text>
</g>
</g>

<!--LOGO-->
<g>
<g id="fao">
<circle cx="701.1" cy="759" r="26.7" fill="#fff" stroke="#111" stroke-width="2.6"/>
<g font-weight="bold" fill="#111" font-size="16">
<text x="679.6" y="760.8" textLength="7.6" lengthAdjust="spacingAndGlyphs">F</text>
<text x="696" y="748.4" textLength="9.8" lengthAdjust="spacingAndGlyphs">A</text>
<text x="714.2" y="760.8" textLength="9.8" lengthAdjust="spacingAndGlyphs">O</text>
</g>
<path d="M685.3,739.6 L701.1,771 L716.9,739.6" fill="none" stroke="#111" stroke-width="2"/>
<path d="M689,739.2 L701.1,764.5 L713.2,739.2" fill="none" stroke="#111" stroke-width="1.8"/>
<path d="M697.8,753 Q701.1,745.5 704.4,753 Q704.4,756.5 701.1,756.5 Q697.8,756.5 697.8,753Z" fill="#111"/>
<ellipse cx="701.1" cy="770" rx="6.4" ry="5.4" fill="#111"/>
<ellipse cx="701.1" cy="761.8" rx="4.2" ry="3.2" fill="#111"/>
<path d="M694.9,768.5 L701.1,774.5 L707.3,768.5" fill="none" stroke="#fff" stroke-width="0.8"/>
<path d="M696.3,760.5 L701.1,766 L705.9,760.5" fill="none" stroke="#fff" stroke-width="0.7"/>
<rect x="700.4" y="774" width="1.5" height="10" fill="#111"/>
<defs>
<path id="arcL" d="M678.08,767.38 A24.5,24.5 0 0 0 698.96,783.41"/>
<path id="arcR" d="M705.35,783.13 A24.5,24.5 0 0 0 725.23,763.25"/>
</defs>
<g font-size="7.4" fill="#111" stroke="#111" stroke-width="0.35">
<text letter-spacing="2.1"><textPath href="#arcL">FIAT</textPath></text>
<text letter-spacing="1.0"><textPath href="#arcR">PANIS</textPath></text>
</g>
</g>
<g font-weight="bold" fill="#1a1a1a" font-size="15.5">
<text x="739" y="748.5" textLength="138" lengthAdjust="spacingAndGlyphs">Food and Agriculture</text>
<text x="739" y="766" textLength="129" lengthAdjust="spacingAndGlyphs">Organization of the</text>
<text x="739" y="783.5" textLength="98.5" lengthAdjust="spacingAndGlyphs">United Nations</text>
</g>
<rect x="672.5" y="800.5" width="215" height="2" fill="#222"/>
<g fill="#333" font-size="14">
<text x="673.5" y="827" textLength="185.5" lengthAdjust="spacingAndGlyphs">Global Information and Early</text>
<text x="673.5" y="845" textLength="161.5" lengthAdjust="spacingAndGlyphs">Warning System – GIEWS</text>
</g>
</g>

<g font-size="10.5" fill="#000">
<text x="15" y="919" textLength="840">Disclaimer: The boundaries and names shown and the designations used on this map do not imply the expression of any opinion whatsoever on the part of FAO</text>
<text x="15" y="933" textLength="733">concerning the legal status of any country, territory, area or of its authorities, or concerning the delimitation of its frontiers and boundaries.</text>
</g>
</svg>
</body></html>
